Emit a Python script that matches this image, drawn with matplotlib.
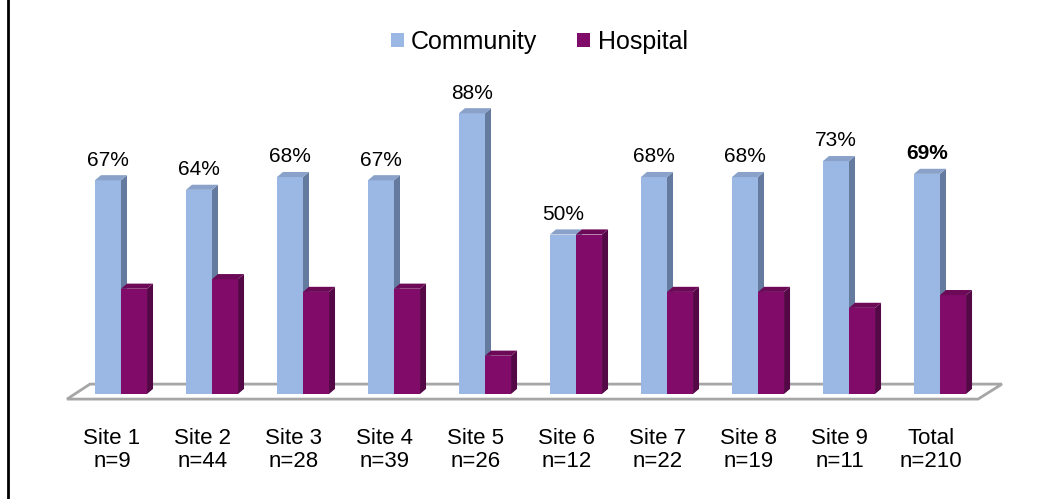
import matplotlib.pyplot as plt
from matplotlib.patches import Polygon, Patch
from matplotlib.lines import Line2D

# data
sites = ['Site 1', 'Site 2', 'Site 3', 'Site 4', 'Site 5', 'Site 6', 'Site 7', 'Site 8', 'Site 9', 'Total']
n_counts = [9, 44, 28, 39, 26, 12, 22, 19, 11, 210]
community = [67, 64, 68, 67, 88, 50, 68, 68, 73, 69]
hospital = [33, 36, 32, 33, 12, 50, 32, 32, 27, 31]

plt.rcParams['font.family'] = ['Liberation Sans', 'DejaVu Sans']

comm_front = '#9bb7e4'
comm_side = '#647b9f'
comm_top = '#8aa1c9'
hosp_front = '#800b68'
hosp_side = '#550846'
hosp_top = '#6c0a58'

fig = plt.figure(figsize=(10.39, 4.99), dpi=100)
ax = fig.add_axes([40 / 1039, 105 / 499, 980 / 1039, 319 / 499])
ax.set_xlim(-0.890, 9.879)
ax.set_ylim(0, 100)
ax.axis('off')

w = 0.286          # bar width (category units)
dx = 0.066         # depth of the 3d side
dy = 1.6           # depth of the 3d top
x = list(range(len(sites)))

# floor of the 3d chart
floor = Polygon([(-0.593, -1.6), (9.418, -1.6), (9.681, 3.1), (-0.341, 3.1)],
                closed=True, facecolor='white', edgecolor='#a6a6a6', lw=2, zorder=1, clip_on=False)
ax.add_patch(floor)


def bar3d(left, h, front, side, top):
    ax.bar(left, h, width=w, align='edge', color=front, zorder=2)
    ax.add_patch(Polygon([(left + w, 0), (left + w + dx, dy), (left + w + dx, h + dy), (left + w, h)],
                         closed=True, facecolor=side, edgecolor='none', zorder=2))
    ax.add_patch(Polygon([(left, h), (left + dx, h + dy), (left + w + dx, h + dy), (left + w, h)],
                         closed=True, facecolor=top, edgecolor='none', zorder=2))


for i in x:
    bar3d(i - w, community[i], comm_front, comm_side, comm_top)
    bar3d(i, hospital[i], hosp_front, hosp_side, hosp_top)
    # value label over community bar
    ax.annotate('%d%%' % community[i], (i - w / 2, community[i]), xytext=(0, 14.5),
                textcoords='offset points', ha='center', va='center', fontsize=15,
                fontweight='bold' if sites[i] == 'Total' else 'normal')
    # category label
    ax.text(i - 0.1, -17.6, '%s\nn=%d' % (sites[i], n_counts[i]), ha='center', va='center',
            fontsize=16, linespacing=1.15, clip_on=False)

# legend
handles = [Patch(facecolor=comm_front, label='Community'), Patch(facecolor=hosp_front, label='Hospital')]
fig.legend(handles=handles, loc='center', bbox_to_anchor=(0.519, 0.916), ncol=2, frameon=False,
           fontsize=18, handlelength=0.52, handleheight=0.52, handletextpad=0.3, columnspacing=1.6)

# left border line
fig.add_artist(Line2D([7.5 / 1039, 7.5 / 1039], [0, 1], transform=fig.transFigure, color='black', lw=2))

fig.savefig('out.png', dpi=100)
